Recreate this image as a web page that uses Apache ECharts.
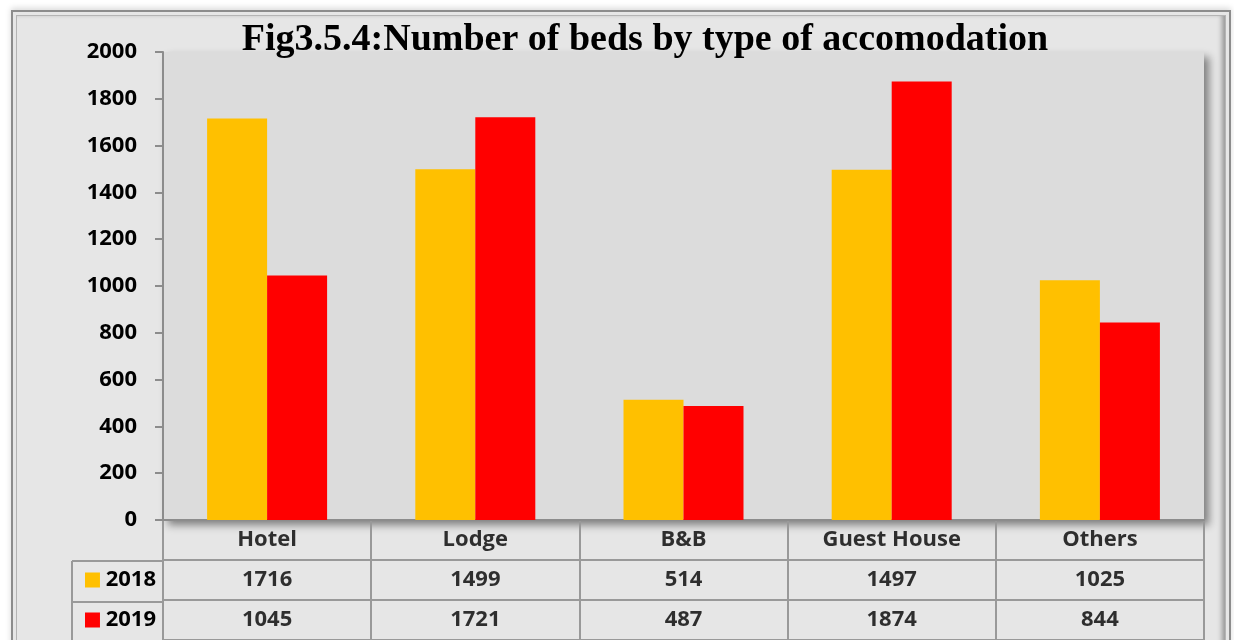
<!DOCTYPE html>
<html>
<head>
<meta charset="utf-8">
<script src="https://cdn.jsdelivr.net/npm/echarts@6/dist/echarts.min.js"></script>
<style>
html,body{margin:0;padding:0;background:#fff;width:1234px;height:640px;overflow:hidden;}
#frame{position:absolute;left:11px;top:10px;width:1216px;height:650px;border:2px solid #8c8c8c;background:#e6e6e6;box-shadow:0 -2px 6px rgba(0,0,0,0.15);}
#inner{position:absolute;left:3px;top:3px;right:3px;bottom:3px;border:1px solid #b4b4b4;box-shadow:inset -5px 0 5px -2px rgba(0,0,0,0.35);}
#chart{position:absolute;left:0;top:0;width:1234px;height:640px;}
</style>
</head>
<body>
<div id="frame"><div id="inner"></div></div>
<div id="chart"></div>
<script>
const categories = ['Hotel', 'Lodge', 'B&B', 'Guest House', 'Others'];
const years = ['2018', '2019'];
const beds2018 = [1716, 1499, 514, 1497, 1025];
const beds2019 = [1045, 1721, 487, 1874, 844];
const yTicks = [0, 200, 400, 600, 800, 1000, 1200, 1400, 1600, 1800, 2000];
const colors = {'2018': '#FFC000', '2019': '#FF0000'};
const titleText = 'Fig3.5.4:Number of beds by type of accomodation';

const font = '"Open Sans", "Noto Sans", sans-serif';
const rowKeys = ['hdr', '2018', '2019'];

const tableData = [];
categories.forEach((c, i) => {
  tableData.push([c, 'hdr', c]);
  tableData.push([c, '2018', String(beds2018[i])]);
  tableData.push([c, '2019', String(beds2019[i])]);
});

const chart = echarts.init(document.getElementById('chart'), null, {renderer: 'canvas'});
chart.setOption({
  backgroundColor: 'transparent',
  animation: false,
  title: {
    text: titleText,
    left: 640, textAlign: 'center',
    top: 16,
    textStyle: {fontFamily: '"Liberation Serif", "DejaVu Serif", serif', fontWeight: 'bold', fontSize: 38, color: '#000'}
  },
  grid: [
    {left: 163, right: 30, top: 52, bottom: 120, show: true, backgroundColor: '#dcdcdc', borderWidth: 0,
     shadowColor: 'rgba(0,0,0,0.45)', shadowBlur: 8, shadowOffsetX: 5, shadowOffsetY: 5},
    {left: 163, right: 30, top: 520, height: 123, show: true, borderColor: '#999', borderWidth: 2, backgroundColor: 'transparent'}
  ],
  xAxis: [
    {type: 'category', data: categories, gridIndex: 0,
     axisLine: {show: true, lineStyle: {color: '#8c8c8c', width: 2}},
     axisTick: {show: false}, axisLabel: {show: false}},
    {type: 'category', data: categories, gridIndex: 1,
     axisLine: {show: false}, axisTick: {show: false}, axisLabel: {show: false},
     splitLine: {show: true, lineStyle: {color: '#999', width: 2}}}
  ],
  yAxis: [
    {type: 'value', gridIndex: 0, min: yTicks[0], max: yTicks[yTicks.length - 1], interval: 200,
     axisLine: {show: true, lineStyle: {color: '#8c8c8c', width: 2}},
     axisTick: {show: true, length: 8, lineStyle: {color: '#8c8c8c', width: 2}},
     splitLine: {show: false},
     axisLabel: {margin: 26, color: '#000', fontFamily: font, fontWeight: 'bold', fontSize: 22,
       formatter: v => String(v)}},
    {type: 'category', data: rowKeys, inverse: true, gridIndex: 1,
     axisLine: {show: false}, axisTick: {show: false},
     splitLine: {show: true, lineStyle: {color: '#999', width: 2}},
     axisLabel: {margin: 7, color: '#000', fontFamily: font, fontWeight: 'bold', fontSize: 22,
       formatter: v => v === 'hdr' ? '' : '{s' + v + '|} ' + v,
       rich: {
         s2018: {backgroundColor: colors['2018'], width: 15, height: 15},
         s2019: {backgroundColor: colors['2019'], width: 15, height: 15}
       }}}
  ],
  graphic: [
    {type: 'line', shape: {x1: 72, y1: 561, x2: 163, y2: 561}, style: {stroke: '#999', lineWidth: 2}},
    {type: 'line', shape: {x1: 72, y1: 602, x2: 163, y2: 602}, style: {stroke: '#999', lineWidth: 2}},
    {type: 'line', shape: {x1: 72, y1: 561, x2: 72, y2: 645}, style: {stroke: '#999', lineWidth: 2}}
  ],
  series: [
    {name: years[0], type: 'bar', data: beds2018, barWidth: 60, barGap: '0%', itemStyle: {color: colors['2018']}},
    {name: years[1], type: 'bar', data: beds2019, barWidth: 60, barGap: '0%', itemStyle: {color: colors['2019']}},
    {type: 'scatter', xAxisIndex: 1, yAxisIndex: 1, data: tableData, symbolSize: 1,
     itemStyle: {color: 'rgba(0,0,0,0)'},
     label: {show: true, position: 'inside', formatter: p => p.value[2],
       color: '#000', fontFamily: font, fontWeight: 'bold', fontSize: 22}}
  ]
});
</script>
</body>
</html>
